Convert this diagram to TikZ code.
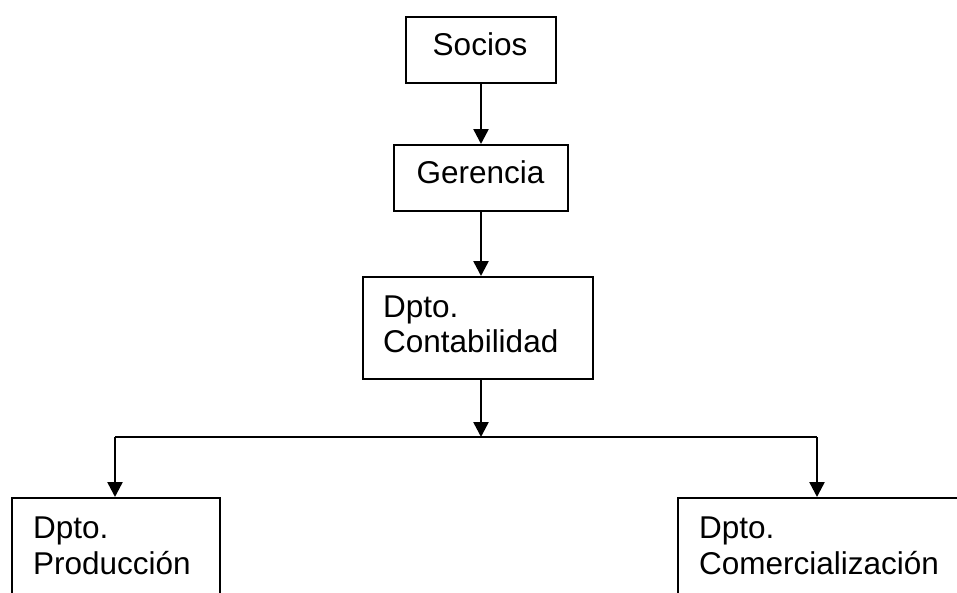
\documentclass[tikz,border=0pt]{standalone}
\usepackage{fontspec}
\setmainfont{Liberation Sans}
\usetikzlibrary{arrows.meta}
\begin{document}
\begin{tikzpicture}[x=1pt,y=-1pt,
  box/.style={draw=black,line width=2.2pt,rectangle,inner sep=0pt,anchor=north west},
  txt/.style={inner sep=0pt,font=\fontsize{31.5}{36}\selectfont},
  arr/.style={line width=2.5pt,-{Triangle[length=15pt,width=15pt]}},
  conn/.style={line width=2.5pt}]
\useasboundingbox (0,0) rectangle (957,592);
\clip (0,0) rectangle (957,592);
% boxes
\node[box,minimum width=150pt,minimum height=66pt] (socios) at (405,16) {};
\node[box,minimum width=174pt,minimum height=66pt] (gerencia) at (393,144) {};
\node[box,minimum width=230pt,minimum height=102pt] (contab) at (362,276) {};
\node[box,minimum width=208pt,minimum height=140pt] (prod) at (11,497) {};
\node[box,minimum width=300pt,minimum height=140pt] (comer) at (677,497) {};
% texts
\node[txt,anchor=base] (tsocios) at (480,55) {Socios};
\node[txt,anchor=base] (tgerencia) at (480.5,183) {Gerencia};
\node[txt,anchor=base west] (tcont1) at (383,317) {Dpto.};
\node[txt,anchor=base west] (tcont2) at (383,352) {Contabilidad};
\node[txt,anchor=base west] (tprod1) at (33,538) {Dpto.};
\node[txt,anchor=base west] (tprod2) at (33,574) {Producción};
\node[txt,anchor=base west] (tcom1) at (699,538) {Dpto.};
\node[txt,anchor=base west] (tcom2) at (699,574) {Comercialización};
% connectors
\coordinate (spine) at (481,0);
\coordinate (junc) at (481,437);
\coordinate (jl) at (115,437);
\coordinate (jr) at (817,437);
\draw[arr] (socios.south -| spine) -- (gerencia.north -| spine);
\draw[arr] (gerencia.south -| spine) -- (contab.north -| spine);
\draw[arr] (contab.south -| spine) -- (junc);
\draw[conn] (jl) -- (jr);
\draw[arr] (jl) -- (jl |- prod.north);
\draw[arr] (jr) -- (jr |- comer.north);
\end{tikzpicture}
\end{document}
